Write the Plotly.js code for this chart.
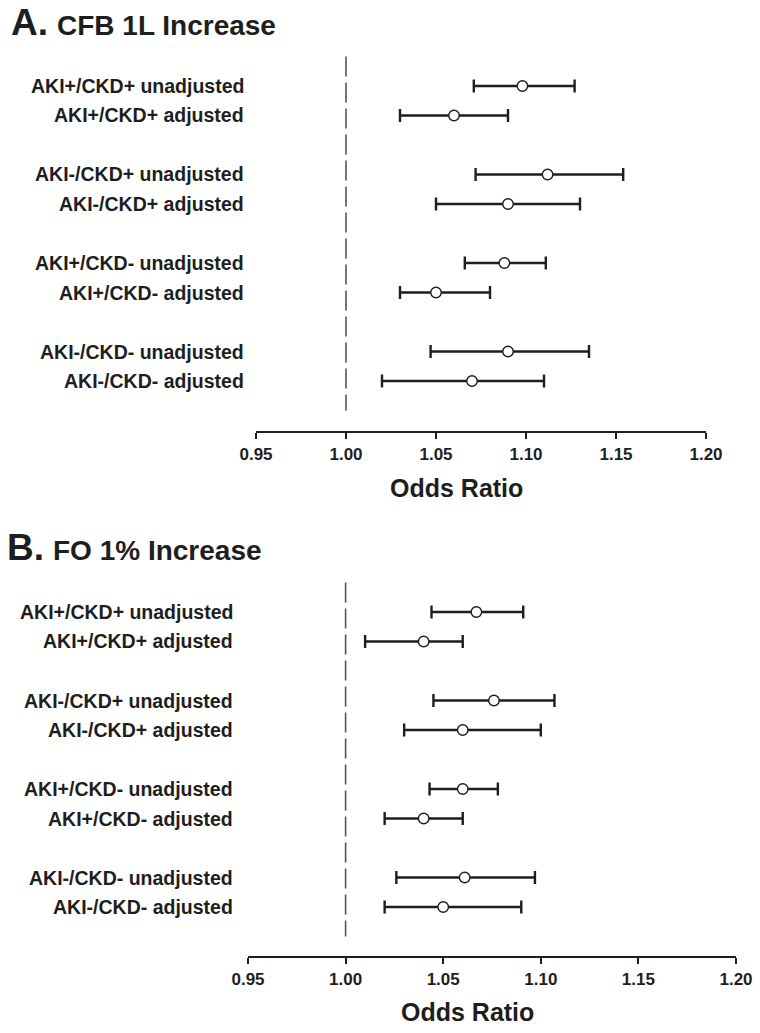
<!DOCTYPE html>
<html>
<head>
<meta charset="utf-8">
<script src="https://cdn.plot.ly/plotly-3.0.1.min.js"></script>
<style>html,body{margin:0;padding:0;background:#fff;}#chart{width:760px;height:1033px;}</style>
</head>
<body>
<div id="chart"></div>
<script>
// ---- data ----
const rowLabels = ["AKI+/CKD+ unadjusted","AKI+/CKD+ adjusted","AKI-/CKD+ unadjusted","AKI-/CKD+ adjusted","AKI+/CKD- unadjusted","AKI+/CKD- adjusted","AKI-/CKD- unadjusted","AKI-/CKD- adjusted"];
const panelATitle = "CFB 1L Increase";
const panelBTitle = "FO 1% Increase";
const cfbOR   = [1.098, 1.060, 1.112, 1.090, 1.088, 1.050, 1.090, 1.070];
const cfbLow  = [1.071, 1.030, 1.072, 1.050, 1.066, 1.030, 1.047, 1.020];
const cfbHigh = [1.127, 1.090, 1.154, 1.130, 1.111, 1.080, 1.135, 1.110];
const foOR    = [1.067, 1.040, 1.076, 1.060, 1.060, 1.040, 1.061, 1.050];
const foLow   = [1.044, 1.010, 1.045, 1.030, 1.043, 1.020, 1.026, 1.020];
const foHigh  = [1.091, 1.060, 1.107, 1.100, 1.078, 1.060, 1.097, 1.090];
const xTicks  = [0.95, 1.00, 1.05, 1.10, 1.15, 1.20];
const xTitle  = "Odds Ratio";

// ---- layout helpers ----
const W = 760, H = 1033;
const FONT = "Liberation Sans, Arial, sans-serif";
const INK = "#1e1e1e";
const pos = rowLabels.map((_, i) => i + Math.floor(i / 2) + 1);
const px2x = p => p / W;
const px2y = p => 1 - p / H;

function trace(or, lo, hi, xa, ya) {
  return {
    type: "scatter", mode: "markers", xaxis: xa, yaxis: ya,
    x: or, y: pos, hoverinfo: "skip",
    marker: {symbol: "circle", size: 10.5, color: "#fff", line: {color: INK, width: 1.4}},
    error_x: {type: "data", symmetric: false,
      array: hi.map((h, i) => h - or[i]),
      arrayminus: lo.map((l, i) => or[i] - l),
      color: INK, thickness: 2.4, width: 6.5}
  };
}

const data = [
  trace(cfbOR, cfbLow, cfbHigh, "x", "y"),
  trace(foOR, foLow, foHigh, "x2", "y2")
];

function xaxis(domain, anchor) {
  return {
    domain: domain, anchor: anchor, range: [0.95, 1.20],
    tickvals: xTicks, ticktext: xTicks.map(v => v.toFixed(2)),
    showgrid: false, zeroline: false, showline: true,
    linecolor: INK, linewidth: 2, ticks: "outside", ticklen: 6, tickwidth: 2, tickcolor: INK,
    ticklabelstandoff: 1,
    tickfont: {family: FONT, size: 17, color: INK, weight: 700}
  };
}
function yaxis(domain, anchor, range) {
  return {
    domain: domain, anchor: anchor, range: range,
    showgrid: false, zeroline: false, showline: false, showticklabels: false, ticks: ""
  };
}

const annotations = [];
function rowAnn(yref, xpx) {
  rowLabels.forEach((t, i) => annotations.push({
    xref: "paper", yref: yref, x: px2x(xpx), y: pos[i], xanchor: "right", yanchor: "middle",
    text: t, showarrow: false, font: {family: FONT, size: 19.5, color: INK, weight: 700}
  }));
}
rowAnn("y", 246);
rowAnn("y2", 235);

function txt(t, xpx, ypx, size, anchor) {
  annotations.push({xref: "paper", yref: "paper", x: px2x(xpx), y: px2y(ypx),
    xanchor: anchor || "left", yanchor: "middle", text: t, showarrow: false,
    font: {family: FONT, size: size, color: INK, weight: 700}});
}
txt("A.", 9, 22.5, 37);
txt(panelATitle, 55, 25.3, 28);
txt("B.", 5, 547.5, 37);
txt(panelBTitle, 51, 550.3, 28);
txt(xTitle, 456, 488, 25, "center");
txt(xTitle, 467, 1012, 25, "center");

const shapes = [
  {type: "line", xref: "x", yref: "y", x0: 1, x1: 1, y0: 0, y1: 12,
   line: {color: "#555", width: 1.6, dash: "20px,6px"}},
  {type: "line", xref: "x2", yref: "y2", x0: 1, x1: 1, y0: 0, y1: 12,
   line: {color: "#555", width: 1.6, dash: "20px,6px"}}
];

const layout = {
  width: W, height: H, margin: {l: 0, r: 0, t: 0, b: 0},
  paper_bgcolor: "#fff", plot_bgcolor: "#fff", showlegend: false,
  xaxis: xaxis([px2x(256), px2x(706)], "y"),
  yaxis: yaxis([px2y(431), px2y(40)], "x", [12.695, -0.559]),
  xaxis2: xaxis([px2x(248), px2x(736)], "y2"),
  yaxis2: yaxis([px2y(956), px2y(565)], "x2", [12.661, -0.593]),
  annotations: annotations, shapes: shapes
};

Plotly.newPlot("chart", data, layout, {staticPlot: true});
</script>
</body>
</html>
